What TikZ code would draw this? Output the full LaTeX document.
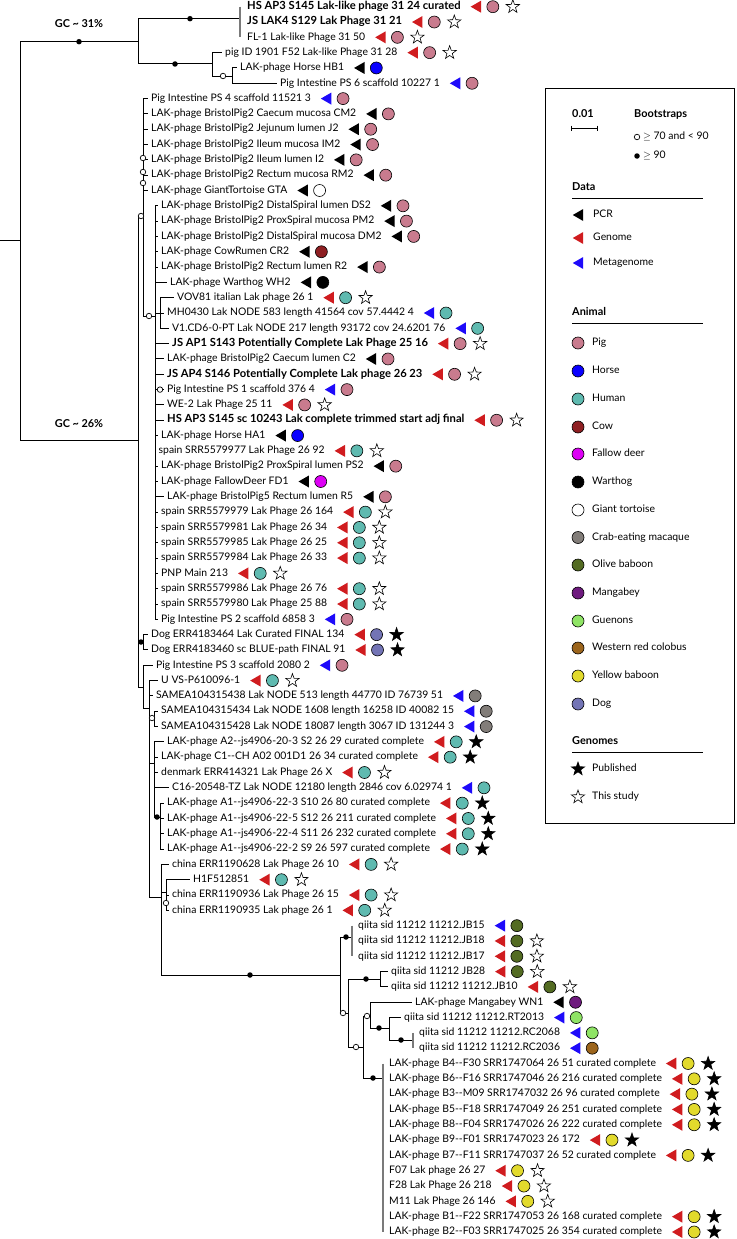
\documentclass[tikz,border=0pt]{standalone}
\usepackage{fontspec}
\setmainfont{Lato}
\usetikzlibrary{calc,shapes.geometric}
\definecolor{cpig}{HTML}{C97B8E}
\definecolor{chorse}{HTML}{0A00FF}
\definecolor{chuman}{HTML}{5FBAB0}
\definecolor{ccow}{HTML}{8E1F22}
\definecolor{cdeer}{HTML}{DD00F5}
\definecolor{cwart}{HTML}{000000}
\definecolor{ctort}{HTML}{FFFFFF}
\definecolor{cmacaque}{HTML}{827D79}
\definecolor{colive}{HTML}{536B22}
\definecolor{cmang}{HTML}{6E1A7E}
\definecolor{cguen}{HTML}{8FE465}
\definecolor{ccolob}{HTML}{9C651C}
\definecolor{cyel}{HTML}{E2DA2C}
\definecolor{cdog}{HTML}{7374B5}
\definecolor{dpcr}{HTML}{000000}
\definecolor{dgen}{HTML}{D01C1F}
\definecolor{dmeta}{HTML}{1E0AFA}
\definecolor{treegray}{HTML}{7A7A7A}
\tikzset{
 lf/.style={anchor=west, inner sep=0pt, text height=7.8, text depth=2.3, font=\fontsize{10.4}{12}\selectfont},
 lfb/.style={lf, font=\fontsize{11.2}{12}\selectfont\bfseries},
 hd/.style={anchor=west, inner sep=0pt, text height=7.8, text depth=2.3, font=\fontsize{10.9}{12}\selectfont\bfseries},
 ani/.style={circle, draw=black, line width=0.6, minimum size=12, inner sep=0pt},
 stp/.style={star, star points=5, star point ratio=2.5, minimum size=14, inner sep=0pt, draw=black, line width=0.6, fill=black},
 sts/.style={stp, fill=white},
 br/.style={line width=1.0, black},
 brg/.style={line width=1.3, treegray},
 bsh/.style={circle, fill=black, minimum size=5.5, inner sep=0pt},
 bsl/.style={circle, draw=black, fill=white, line width=0.7, minimum size=5.5, inner sep=0pt},
}
\newcommand\lf[7]{%
  \pgfmathsetmacro\yy{6.7+15.316*#1}%
  \node[#3] (L#1) at (#2,\yy) {#4};%
  \coordinate (T#1) at ($(L#1.east)+(15,0)$);%
  \fill[#5] ($(T#1)+(-5.2,0)$) -- ($(T#1)+(5.2,-6)$) -- ($(T#1)+(5.2,6)$) -- cycle;%
  \node[ani,fill=#6] (A#1) at ($(T#1)+(17,0)$) {};%
  \def\tmpa{#7}\def\tmpb{n}%
  \ifx\tmpa\tmpb\else\node[#7] (S#1) at ($(A#1)+(20,0)$) {};\fi%
}
\begin{document}
\begin{tikzpicture}[x=1pt,y=-1pt]
\fill[white] (0,0) rectangle (736,1239);
\useasboundingbox (0,0) rectangle (736,1239);
% ---------- leaves ----------
\lf{0}{247}{lfb}{HS AP3 S145 Lak-like phage 31 24 curated}{dgen}{cpig}{sts}
\lf{1}{247}{lfb}{JS LAK4 S129 Lak Phage 31 21}{dgen}{cpig}{sts}
\lf{2}{247}{lf}{FL-1 Lak-like Phage 31 50}{dgen}{cpig}{sts}
\lf{3}{225}{lf}{pig ID 1901 F52 Lak-like Phage 31 28}{dgen}{cpig}{sts}
\lf{4}{240}{lf}{LAK-phage Horse HB1}{dpcr}{chorse}{n}
\lf{5}{280}{lf}{Pig Intestine PS 6 scaffold 10227 1}{dmeta}{cpig}{n}
\lf{6}{151}{lf}{Pig Intestine PS 4 scaffold 11521 3}{dmeta}{cpig}{n}
\lf{7}{151}{lf}{LAK-phage BristolPig2 Caecum mucosa CM2}{dpcr}{cpig}{n}
\lf{8}{151}{lf}{LAK-phage BristolPig2 Jejunum lumen J2}{dpcr}{cpig}{n}
\lf{9}{151}{lf}{LAK-phage BristolPig2 Ileum mucosa IM2}{dpcr}{cpig}{n}
\lf{10}{151}{lf}{LAK-phage BristolPig2 Ileum lumen I2}{dpcr}{cpig}{n}
\lf{11}{151}{lf}{LAK-phage BristolPig2 Rectum mucosa RM2}{dpcr}{cpig}{n}
\lf{12}{151}{lf}{LAK-phage GiantTortoise GTA}{dpcr}{ctort}{n}
\lf{13}{161}{lf}{LAK-phage BristolPig2 DistalSpiral lumen DS2}{dpcr}{cpig}{n}
\lf{14}{161}{lf}{LAK-phage BristolPig2 ProxSpiral mucosa PM2}{dpcr}{cpig}{n}
\lf{15}{161}{lf}{LAK-phage BristolPig2 DistalSpiral mucosa DM2}{dpcr}{cpig}{n}
\lf{16}{161}{lf}{LAK-phage CowRumen CR2}{dpcr}{ccow}{n}
\lf{17}{161}{lf}{LAK-phage BristolPig2 Rectum lumen R2}{dpcr}{cpig}{n}
\lf{18}{170}{lf}{LAK-phage Warthog WH2}{dpcr}{cwart}{n}
\lf{19}{177}{lf}{VOV81 italian Lak phage 26 1}{dgen}{chuman}{sts}
\lf{20}{167}{lf}{MH0430 Lak NODE 583 length 41564 cov 57.4442 4}{dmeta}{chuman}{n}
\lf{21}{172}{lf}{V1.CD6-0-PT Lak NODE 217 length 93172 cov 24.6201 76}{dmeta}{chuman}{n}
\lf{22}{172}{lfb}{JS AP1 S143 Potentially Complete Lak Phage 25 16}{dgen}{cpig}{sts}
\lf{23}{167}{lf}{LAK-phage BristolPig2 Caecum lumen C2}{dpcr}{cpig}{n}
\lf{24}{167}{lfb}{JS AP4 S146 Potentially Complete Lak phage 26 23}{dgen}{cpig}{sts}
\lf{25}{167}{lf}{Pig Intestine PS 1 scaffold 376 4}{dmeta}{cpig}{n}
\lf{26}{167}{lf}{WE-2 Lak Phage 25 11}{dgen}{cpig}{sts}
\lf{27}{167}{lfb}{HS AP3 S145 sc 10243 Lak complete trimmed start adj final}{dgen}{cpig}{sts}
\lf{28}{161}{lf}{LAK-phage Horse HA1}{dpcr}{chorse}{n}
\lf{29}{158.5}{lf}{spain SRR5579977 Lak Phage 26 92}{dgen}{chuman}{sts}
\lf{30}{161}{lf}{LAK-phage BristolPig2 ProxSpiral lumen PS2}{dpcr}{cpig}{n}
\lf{31}{161}{lf}{LAK-phage FallowDeer FD1}{dpcr}{cdeer}{n}
\lf{32}{167}{lf}{LAK-phage BristolPig5 Rectum lumen R5}{dpcr}{cpig}{n}
\lf{33}{161}{lf}{spain SRR5579979 Lak Phage 26 164}{dgen}{chuman}{sts}
\lf{34}{161}{lf}{spain SRR5579981 Lak Phage 26 34}{dgen}{chuman}{sts}
\lf{35}{161}{lf}{spain SRR5579985 Lak Phage 26 25}{dgen}{chuman}{sts}
\lf{36}{161}{lf}{spain SRR5579984 Lak Phage 26 33}{dgen}{chuman}{sts}
\lf{37}{161}{lf}{PNP Main 213}{dgen}{chuman}{sts}
\lf{38}{161}{lf}{spain SRR5579986 Lak Phage 26 76}{dgen}{chuman}{sts}
\lf{39}{161}{lf}{spain SRR5579980 Lak Phage 25 88}{dgen}{chuman}{sts}
\lf{40}{161}{lf}{Pig Intestine PS 2 scaffold 6858 3}{dmeta}{cpig}{n}
\lf{41}{151}{lf}{Dog ERR4183464 Lak Curated FINAL 134}{dgen}{cdog}{stp}
\lf{42}{151}{lf}{Dog ERR4183460 sc BLUE-path FINAL 91}{dgen}{cdog}{stp}
\lf{43}{156}{lf}{Pig Intestine PS 3 scaffold 2080 2}{dmeta}{cpig}{n}
\lf{44}{161}{lf}{U VS-P610096-1}{dgen}{chuman}{sts}
\lf{45}{156}{lf}{SAMEA104315438 Lak NODE 513 length 44770 ID 76739 51}{dmeta}{cmacaque}{n}
\lf{46}{161}{lf}{SAMEA104315434 Lak NODE 1608 length 16258 ID 40082 15}{dmeta}{cmacaque}{n}
\lf{47}{161}{lf}{SAMEA104315428 Lak NODE 18087 length 3067 ID 131244 3}{dmeta}{cmacaque}{n}
\lf{48}{167}{lf}{LAK-phage A2-{}-js4906-20-3 S2 26 29 curated complete}{dgen}{chuman}{stp}
\lf{49}{161}{lf}{LAK-phage C1-{}-CH A02 001D1 26 34 curated complete}{dgen}{chuman}{stp}
\lf{50}{161}{lf}{denmark ERR414321 Lak Phage 26 X}{dgen}{chuman}{sts}
\lf{51}{172}{lf}{C16-20548-TZ Lak NODE 12180 length 2846 cov 6.02974 1}{dmeta}{chuman}{n}
\lf{52}{167}{lf}{LAK-phage A1-{}-js4906-22-3 S10 26 80 curated complete}{dgen}{chuman}{stp}
\lf{53}{167}{lf}{LAK-phage A1-{}-js4906-22-5 S12 26 211 curated complete}{dgen}{chuman}{stp}
\lf{54}{167}{lf}{LAK-phage A1-{}-js4906-22-4 S11 26 232 curated complete}{dgen}{chuman}{stp}
\lf{55}{167}{lf}{LAK-phage A1-{}-js4906-22-2 S9 26 597 curated complete}{dgen}{chuman}{stp}
\lf{56}{172}{lf}{china ERR1190628 Lak Phage 26 10}{dgen}{chuman}{sts}
\lf{57}{193}{lf}{H1F512851}{dgen}{chuman}{sts}
\lf{58}{172}{lf}{china ERR1190936 Lak Phage 26 15}{dgen}{chuman}{sts}
\lf{59}{172}{lf}{china ERR1190935 Lak phage 26 1}{dgen}{chuman}{sts}
\lf{60}{358}{lf}{qiita sid 11212 11212.JB15}{dmeta}{colive}{n}
\lf{61}{358}{lf}{qiita sid 11212 11212.JB18}{dgen}{colive}{sts}
\lf{62}{358}{lf}{qiita sid 11212 11212.JB17}{dgen}{colive}{sts}
\lf{63}{391}{lf}{qiita sid 11212 JB28}{dgen}{colive}{sts}
\lf{64}{391}{lf}{qiita sid 11212 11212.JB10}{dgen}{colive}{sts}
\lf{65}{415}{lf}{LAK-phage Mangabey WN1}{dpcr}{cmang}{n}
\lf{66}{404}{lf}{qiita sid 11212 11212.RT2013}{dmeta}{cguen}{n}
\lf{67}{419}{lf}{qiita sid 11212 11212.RC2068}{dmeta}{cguen}{n}
\lf{68}{419}{lf}{qiita sid 11212 11212.RC2036}{dmeta}{ccolob}{n}
\lf{69}{389}{lf}{LAK-phage B4-{}-F30 SRR1747064 26 51 curated complete}{dgen}{cyel}{stp}
\lf{70}{389}{lf}{LAK-phage B6-{}-F16 SRR1747046 26 216 curated complete}{dgen}{cyel}{stp}
\lf{71}{389}{lf}{LAK-phage B3-{}-M09 SRR1747032 26 96 curated complete}{dgen}{cyel}{stp}
\lf{72}{389}{lf}{LAK-phage B5-{}-F18 SRR1747049 26 251 curated complete}{dgen}{cyel}{stp}
\lf{73}{389}{lf}{LAK-phage B8-{}-F04 SRR1747026 26 222 curated complete}{dgen}{cyel}{stp}
\lf{74}{389}{lf}{LAK-phage B9-{}-F01 SRR1747023 26 172}{dgen}{cyel}{stp}
\lf{75}{389}{lf}{LAK-phage B7-{}-F11 SRR1747037 26 52 curated complete}{dgen}{cyel}{stp}
\lf{76}{389}{lf}{F07 Lak phage 26 27}{dgen}{cyel}{sts}
\lf{77}{389}{lf}{F28 Lak Phage 26 218}{dgen}{cyel}{sts}
\lf{78}{389}{lf}{M11 Lak Phage 26 146}{dgen}{cyel}{sts}
\lf{79}{389}{lf}{LAK-phage B1-{}-F22 SRR1747053 26 168 curated complete}{dgen}{cyel}{stp}
\lf{80}{389}{lf}{LAK-phage B2-{}-F03 SRR1747025 26 354 curated complete}{dgen}{cyel}{stp}
% ---------- tree ----------
\coordinate (rs) at (0,240);
\coordinate (rt) at (20.7,240);
\coordinate (g31) at (138,41.7);
\coordinate (g26) at (138,440);
\draw[br] (rs) -- (rt);
\draw[br] (rt) |- (g31);
\draw[br] (rt) |- (g26);
\node[hd, anchor=center] (gc31) at (79,25) {GC \textasciitilde{} 31\%};
\node[hd, anchor=center] (gc26) at (79,425) {GC \textasciitilde{} 26\%};
% GC 31 clade
\coordinate (nA) at (240,18.7);
\coordinate (nB) at (212,64);
\coordinate (nC) at (232,76);
\draw[br] (g31) |- (nA);
\draw[br] (g31) |- (nB);
\draw[brg] (nA |- L0.west) -- (nA |- L2.west);
\draw[br,shorten >=3] (nB) |- (L3.west);
\draw[br] (nB) |- (nC);
\draw[br,shorten >=3] (nC) |- (L4.west);
\draw[br,shorten >=3] (nC) |- (L5.west);
% GC 26 clade
\coordinate (nD) at (143,216);
\coordinate (nE) at (155,316);
\coordinate (nF) at (160,313);
\coordinate (nH) at (143,642);
\coordinate (nI) at (143,687);
\coordinate (nJ) at (149,708);
\coordinate (nK) at (154,718);
\coordinate (nL) at (154,763);
\coordinate (nM) at (160,817);
\coordinate (nN) at (161,897);
\coordinate (nO) at (166,892);
\coordinate (nQ) at (340,975);
\coordinate (nR) at (352,937);
\coordinate (nS) at (348,1013);
\coordinate (nT) at (380,979);
\coordinate (nU) at (363,1047);
\coordinate (nV) at (370,1016);
\coordinate (nW) at (389,1028);
\coordinate (nX) at (413,1040);
\coordinate (nY) at (383,1078);
\draw[br] (g26) |- (nD);
\draw[br] (g26) |- (nH);
\draw[br] (g26) |- (nI);
\foreach \i in {6,...,12} \draw[br,shorten >=3] (nD) |- (L\i.west);
\draw[br] (nD) |- (nE);
\foreach \i in {13,14,15,16,17,18,22,23,...,40} \draw[br,shorten >=3] (nE) |- (L\i.west);
\draw[br] (nE) |- (nF);
\foreach \i in {19,20,21} \draw[br,shorten >=3] (nF) |- (L\i.west);
\foreach \i in {41,42} \draw[br,shorten >=3] (nH) |- (L\i.west);
\draw[br,shorten >=3] (nI) |- (L43.west);
\draw[br] (nI) |- (nJ);
\foreach \i in {44,45} \draw[br,shorten >=3] (nJ) |- (L\i.west);
\draw[br] (nJ) |- (nK);
\draw[br] (nJ) |- (nL);
\draw[br] (nJ) |- (nN);
\foreach \i in {46,47} \draw[br,shorten >=3] (nK) |- (L\i.west);
\foreach \i in {48,...,51} \draw[br,shorten >=3] (nL) |- (L\i.west);
\draw[br] (nL) |- (nM);
\foreach \i in {52,...,55} \draw[br,shorten >=3] (nM) |- (L\i.west);
\draw[br,shorten >=3] (nN) |- (L56.west);
\draw[br] (nN) |- (nO);
\draw[br] (nN) |- (nQ);
\foreach \i in {57,58,59} \draw[br,shorten >=3] (nO) |- (L\i.west);
\draw[br] (nQ) |- (nR);
\draw[br] (nQ) |- (nS);
\draw[brg] (nR |- L60.west) -- (nR |- L62.west);
\draw[br] (nS) |- (nT);
\draw[br] (nS) |- (nU);
\foreach \i in {63,64} \draw[br,shorten >=3] (nT) |- (L\i.west);
\draw[br] (nU) |- (nV);
\draw[br] (nU) |- (nY);
\draw[br,shorten >=3] (nV) |- (L65.west);
\draw[br] (nV) |- (nW);
\draw[br,shorten >=3] (nW) |- (L66.west);
\draw[br] (nW) |- (nX);
\draw[brg] (nX |- L67.west) -- (nX |- L68.west);
\draw[brg] (nY |- L69.west) -- (nY |- L80.west);
% bootstrap symbols
\node[bsh] (b1) at (79,41.7) {};
\node[bsh] (b2) at (190,18.7) {};
\node[bsh] (b3) at (175,64) {};
\node[bsl] (b4) at (223,76) {};
\node[bsl] (b5) at (141,216) {};
\node[bsl] (b6) at (143,158) {};
\node[bsl] (b7) at (143,172) {};
\node[bsl] (b8) at (143,183) {};
\node[bsl] (b9) at (149,316) {};
\node[bsl] (b10) at (160,389.6) {};
\node[bsh] (b11) at (141,642) {};
\node[bsl] (b12) at (152,718) {};
\node[bsh] (b13) at (157,817) {};
\node[bsl] (b14) at (166,903) {};
\node[bsh] (b15) at (250,975) {};
\node[bsh] (b16) at (346,937) {};
\node[bsl] (b17) at (343,1013) {};
\node[bsh] (b18) at (366,979) {};
\node[bsl] (b19) at (356,1047) {};
\node[bsl] (b20) at (367,1016) {};
\node[bsh] (b21) at (379,1028) {};
\node[bsh] (b22) at (401,1040) {};
\node[bsh] (b23) at (373,1078) {};
% ---------- legend ----------
\node[draw=black, line width=0.9, minimum width=189, minimum height=735, inner sep=0pt, anchor=north west] (legbox) at (545,88) {};
\node[hd] (sc) at (572,115) {0.01};
\coordinate (sb1) at (571,128);
\coordinate (sb2) at (597,128);
\draw[line width=0.9] (sb1) -- (sb2);
\draw[line width=0.9] ($(sb1)+(0,-2.5)$) -- ($(sb1)+(0,2.5)$);
\draw[line width=0.9] ($(sb2)+(0,-2.5)$) -- ($(sb2)+(0,2.5)$);
\node[hd] (bt) at (634,115) {Bootstraps};
\node[bsl] (lb1) at (637,137) {};
\node[lf] (lb1t) at (643,137) {$\geq$ 70 and < 90};
\node[bsh] (lb2) at (637,156) {};
\node[lf] (lb2t) at (643,156) {$\geq$ 90};
\node[hd] (hdata) at (572,188) {Data};
\draw[line width=0.9] (572,198) -- (703,198);
\foreach \nm/\yy/\cc/\tt in {lp/215/dpcr/PCR, lg/238/dgen/Genome, lm/263/dmeta/Metagenome}{
  \coordinate (\nm) at (578,\yy);
  \fill[\cc] ($(\nm)+(-5.2,0)$) -- ($(\nm)+(5.2,-6)$) -- ($(\nm)+(5.2,6)$) -- cycle;
  \node[lf] (\nm t) at (593,\yy) {\tt};
}
\node[hd] (hani) at (572,313) {Animal};
\draw[line width=0.9] (572,323) -- (703,323);
\foreach \nm/\yy/\cc/\tt in {a1/343/cpig/Pig, a2/371/chorse/Horse, a3/399/chuman/Human, a4/427/ccow/Cow, a5/454/cdeer/Fallow deer, a6/482/cwart/Warthog, a7/510/ctort/Giant tortoise, a8/537.5/cmacaque/Crab-eating macaque, a9/565/colive/Olive baboon, a10/593/cmang/Mangabey, a11/621/cguen/Guenons, a12/648/ccolob/Western red colobus, a13/676/cyel/Yellow baboon, a14/704/cdog/Dog}{
  \node[ani, fill=\cc] (\nm) at (578,\yy) {};
  \node[lf] (\nm t) at (592,\yy) {\tt};
}
\node[hd] (hgen) at (572,742) {Genomes};
\draw[line width=0.9] (572,752) -- (703,752);
\node[stp] (gp) at (578,769) {};
\node[lf] (gpt) at (592,769) {Published};
\node[sts] (gs) at (578,797) {};
\node[lf] (gst) at (592,797) {This study};
\end{tikzpicture}
\end{document}
